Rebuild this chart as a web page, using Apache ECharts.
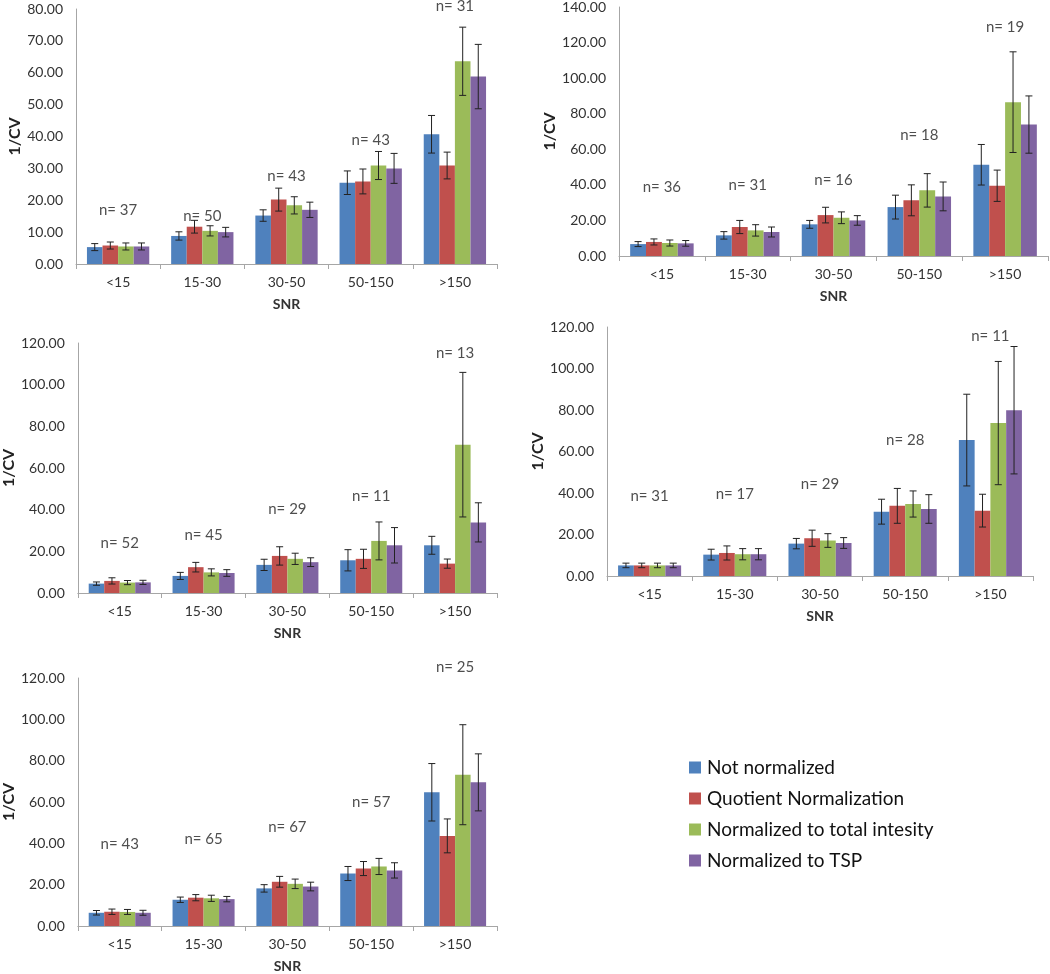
<!DOCTYPE html>
<html>
<head>
<meta charset="utf-8">
<script src="https://cdn.jsdelivr.net/npm/echarts@6/dist/echarts.min.js"></script>
<style>html,body{margin:0;padding:0;background:#fff}#c{width:1050px;height:974px}</style>
</head>
<body>
<div id="c"></div>
<script>
const categories = ['<15', '15-30', '30-50', '50-150', '>150'];
const seriesNames = ['Not normalized', 'Quotient Normalization', 'Normalized to total intesity', 'Normalized to TSP'];
const colors = ['#4F81BD', '#C0504D', '#9BBB59', '#8064A2'];

// Panel 1 (top left)
const p1Values = [[5.3, 8.8, 15.2, 25.5, 40.7], [5.8, 11.7, 20.2, 25.9, 30.9], [5.5, 10.4, 18.4, 30.9, 63.6], [5.5, 10.0, 17.0, 30.0, 58.8]];
const p1Errors = [[1.1, 1.3, 1.8, 3.7, 5.9], [1.1, 2.0, 3.6, 3.9, 4.2], [1.1, 1.6, 2.7, 4.4, 10.7], [1.1, 1.5, 2.4, 4.7, 10.1]];
const p1N = ['n= 37', 'n= 50', 'n= 43', 'n= 43', 'n= 31'];
const p1NLevel = [17.0, 15.1, 27.5, 39.0, 80.9];
// Panel 2 (top right)
const p2Values = [[6.7, 11.6, 17.8, 27.5, 51.3], [7.9, 16.3, 23.0, 31.3, 39.5], [7.3, 14.4, 21.5, 36.9, 86.5], [7.1, 13.5, 20.0, 33.5, 73.9]];
const p2Errors = [[1.4, 2.1, 2.2, 6.7, 11.4], [1.7, 3.7, 4.4, 8.7, 8.8], [1.7, 3.2, 3.3, 9.4, 28.3], [1.6, 2.8, 2.7, 8.1, 16.1]];
const p2N = ['n= 36', 'n= 31', 'n= 16', 'n= 18', 'n= 19'];
const p2NLevel = [38.6, 39.9, 42.7, 68.1, 128.4];
// Panel 3 (middle left)
const p3Values = [[4.5, 8.2, 13.5, 15.7, 22.9], [5.8, 12.4, 17.8, 16.4, 14.1], [5.0, 9.9, 16.4, 25.0, 71.2], [5.1, 9.6, 14.8, 22.9, 33.9]];
const p3Errors = [[0.8, 1.7, 2.7, 5.1, 4.3], [1.5, 2.3, 4.4, 4.6, 2.2], [1.0, 1.7, 2.7, 9.1, 34.7], [1.0, 1.6, 2.1, 8.5, 9.4]];
const p3N = ['n= 52', 'n= 45', 'n= 29', 'n= 11', 'n= 13'];
const p3NLevel = [23.7, 27.8, 40.3, 46.7, 115.2];
// Panel 4 (middle right)
const p4Values = [[5.1, 10.3, 15.6, 31.0, 65.5], [5.1, 11.1, 18.2, 33.8, 31.5], [5.1, 10.5, 17.1, 34.7, 73.7], [5.1, 10.5, 15.9, 32.3, 79.9]];
const p4Errors = [[1.1, 2.6, 2.5, 6.0, 22.1], [1.1, 3.4, 3.9, 8.4, 7.9], [1.1, 2.7, 3.3, 6.3, 29.7], [1.1, 2.7, 2.6, 6.9, 30.7]];
const p4N = ['n= 31', 'n= 17', 'n= 29', 'n= 28', 'n= 11'];
const p4NLevel = [38.3, 39.6, 44.4, 65.6, 115.5];
// Panel 5 (bottom left)
const p5Values = [[6.4, 12.7, 18.2, 25.4, 64.7], [6.9, 13.7, 21.4, 27.8, 43.6], [6.8, 13.4, 20.4, 28.8, 73.2], [6.4, 13.0, 19.1, 26.9, 69.5]];
const p5Errors = [[1.1, 1.3, 1.8, 3.4, 13.9], [1.3, 1.5, 2.6, 3.4, 8.2], [1.2, 1.5, 2.3, 3.9, 24.2], [1.2, 1.3, 2.1, 3.7, 13.8]];
const p5N = ['n= 43', 'n= 65', 'n= 67', 'n= 57', 'n= 25'];
const p5NLevel = [39.7, 41.8, 47.9, 59.8, 125.1];

const yMax = [80, 140, 120, 120, 120];
const yInterval = [10, 20, 20, 20, 20];

const panels = [
  {values: p1Values, errors: p1Errors, n: p1N, nLevel: p1NLevel},
  {values: p2Values, errors: p2Errors, n: p2N, nLevel: p2NLevel},
  {values: p3Values, errors: p3Errors, n: p3N, nLevel: p3NLevel},
  {values: p4Values, errors: p4Errors, n: p4N, nLevel: p4NLevel},
  {values: p5Values, errors: p5Errors, n: p5N, nLevel: p5NLevel}
];
const gridBoxes = [
  {left: 76, top: 9, width: 421, height: 255},
  {left: 619, top: 7, width: 429, height: 249},
  {left: 76, top: 343, width: 421, height: 250},
  {left: 607, top: 327, width: 426, height: 249},
  {left: 76, top: 678, width: 421, height: 249}
];

const FONT = 'Lato, "Open Sans", sans-serif';
const gapFrac = 0.26;
const axisColor = '#A6A6A6';

const grid = [], xAxis = [], yAxis = [], series = [];
panels.forEach(function (p, gi) {
  grid.push(Object.assign({containLabel: false}, gridBoxes[gi]));
  xAxis.push({
    type: 'category', gridIndex: gi, data: categories, boundaryGap: true,
    axisLine: {lineStyle: {color: axisColor, width: 1}},
    axisTick: {show: true, length: 5, alignWithLabel: false, lineStyle: {color: axisColor}},
    axisLabel: {color: '#333', fontSize: 14, fontFamily: FONT, margin: 11},
    name: 'SNR', nameLocation: 'middle', nameGap: 33,
    nameTextStyle: {color: '#333', fontSize: 14, fontWeight: 'bold', fontFamily: FONT}
  });
  yAxis.push({
    type: 'value', gridIndex: gi, min: 0, max: yMax[gi], interval: yInterval[gi],
    axisLine: {show: true, lineStyle: {color: axisColor, width: 1}},
    axisTick: {show: false},
    splitLine: {show: false},
    axisLabel: {color: '#333', fontSize: 14, fontFamily: FONT, margin: 13, formatter: function (v) { return v.toFixed(2); }},
    name: '1/CV', nameLocation: 'middle', nameGap: 53,
    nameTextStyle: {color: '#222', fontSize: 16, fontWeight: 'bold', fontFamily: FONT}
  });
  p.values.forEach(function (vals, si) {
    series.push({
      type: 'bar', name: seriesNames[si], xAxisIndex: gi, yAxisIndex: gi,
      data: vals, barGap: '0%', barCategoryGap: (gapFrac * 100) + '%',
      itemStyle: {color: colors[si]}, z: 2
    });
  });
  p.values.forEach(function (vals, si) {
    series.push({
      type: 'custom', xAxisIndex: gi, yAxisIndex: gi, z: 5, silent: true,
      data: vals.map(function (v, ci) { return [ci, v, p.errors[si][ci]]; }),
      renderItem: function (params, api) {
        const ci = api.value(0), v = api.value(1), e = api.value(2);
        const c = api.coord([ci, v]);
        const catW = api.size([1, 0])[0];
        const groupW = catW * (1 - gapFrac);
        const bw = groupW / 4;
        const x = c[0] - groupW / 2 + bw * (si + 0.5);
        const top = api.coord([ci, v + e])[1];
        const bot = api.coord([ci, v - e])[1];
        const hw = 3.5;
        const st = {stroke: '#222', lineWidth: 1};
        return {type: 'group', children: [
          {type: 'line', shape: {x1: x, y1: top, x2: x, y2: bot}, style: st},
          {type: 'line', shape: {x1: x - hw, y1: top, x2: x + hw, y2: top}, style: st},
          {type: 'line', shape: {x1: x - hw, y1: bot, x2: x + hw, y2: bot}, style: st}
        ]};
      }
    });
  });
  series.push({
    type: 'scatter', xAxisIndex: gi, yAxisIndex: gi, symbolSize: 0, clip: false, silent: true, z: 6,
    data: p.n.map(function (t, ci) { return {value: [ci, p.nLevel[ci]], label: {formatter: t}}; }),
    label: {show: true, position: 'inside', color: '#222', fontSize: 15, fontFamily: FONT}
  });
});

const chart = echarts.init(document.getElementById('c'), null, {renderer: 'canvas'});
chart.setOption({
  animation: false,
  backgroundColor: '#fff',
  grid: grid, xAxis: xAxis, yAxis: yAxis, series: series,
  legend: {
    show: true, orient: 'vertical', left: 684, top: 753,
    data: seriesNames, itemWidth: 12, itemHeight: 12, itemGap: 12,
    icon: 'rect',
    textStyle: {color: '#111', fontSize: 19, fontFamily: FONT, padding: [0, 0, 0, 1]}
  }
});
</script>
</body>
</html>
